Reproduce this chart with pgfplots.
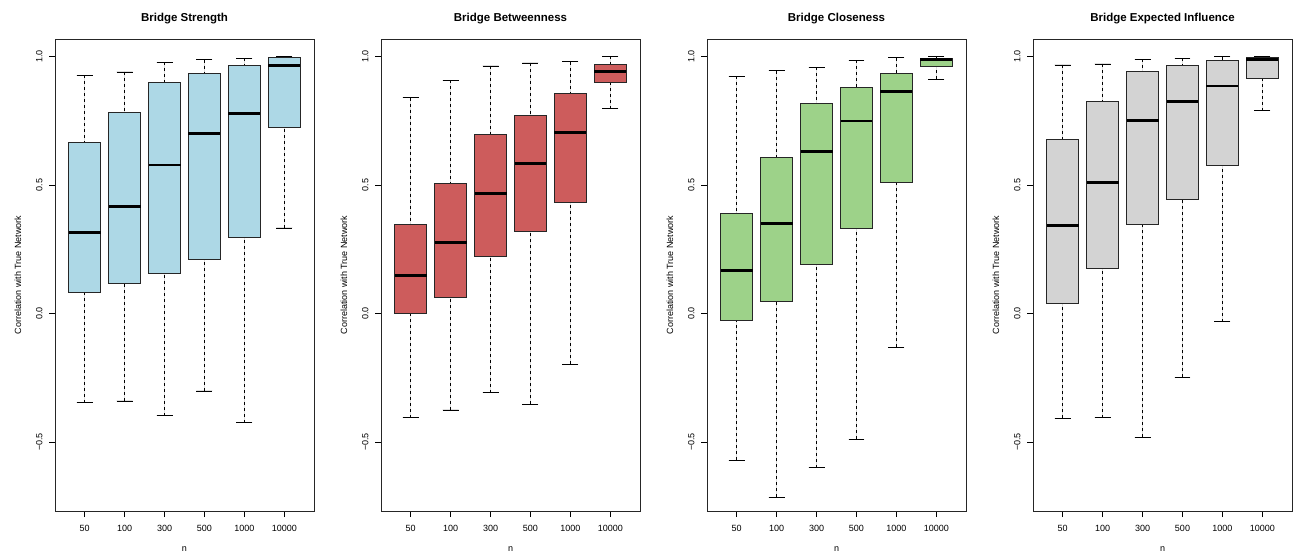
\documentclass[border=0pt]{standalone}
\usepackage{fontspec}
\setmainfont{Liberation Sans}
\usepackage{pgfplots}
\usepackage{pgfplotstable}
\pgfplotsset{compat=1.18}
\usepgfplotslibrary{statistics}

\definecolor{cblue}{RGB}{173,216,230}
\definecolor{cred}{RGB}{205,92,92}
\definecolor{cgreen}{RGB}{157,210,137}
\definecolor{cgray}{RGB}{211,211,211}

\pgfplotstableread{
n lw lq med uq uw
50 -0.347 0.082 0.315 0.664 0.927
100 -0.340 0.119 0.415 0.781 0.940
300 -0.397 0.158 0.578 0.901 0.977
500 -0.301 0.211 0.701 0.934 0.988
1000 -0.425 0.295 0.779 0.964 0.993
10000 0.333 0.726 0.964 0.996 1.000
}\tabStrength

\pgfplotstableread{
n lw lq med uq uw
50 -0.405 -0.001 0.147 0.347 0.840
100 -0.375 0.063 0.275 0.505 0.907
300 -0.308 0.222 0.466 0.696 0.963
500 -0.353 0.321 0.584 0.770 0.975
1000 -0.197 0.433 0.703 0.856 0.979
10000 0.797 0.901 0.942 0.970 1.000
}\tabBetween

\pgfplotstableread{
n lw lq med uq uw
50 -0.570 -0.027 0.166 0.388 0.923
100 -0.715 0.049 0.349 0.608 0.944
300 -0.600 0.193 0.629 0.819 0.959
500 -0.488 0.333 0.749 0.879 0.986
1000 -0.132 0.510 0.863 0.934 0.995
10000 0.912 0.962 0.988 0.992 1.000
}\tabClose

\pgfplotstableread{
n lw lq med uq uw
50 -0.408 0.041 0.344 0.677 0.967
100 -0.405 0.175 0.511 0.827 0.971
300 -0.482 0.348 0.751 0.942 0.989
500 -0.248 0.444 0.826 0.966 0.993
1000 -0.032 0.577 0.885 0.984 0.999
10000 0.789 0.915 0.988 0.998 1.000
}\tabEI

\pgfplotsset{
  rpanel/.style={
    anchor=south west, scale only axis, width=259pt, height=472pt,
    xmin=0.26, xmax=6.74, ymin=-0.768, ymax=1.068,
    xtick={1,2,3,4,5,6}, xticklabels={50,100,300,500,1000,10000},
    ytick={-0.5,0,0.5,1}, yticklabels={−0.5,0.0,0.5,1.0},
    tick pos=left, tick align=outside, major tick length=6pt,
    tick style={black, line width=0.8pt},
    axis line style={black!85, line width=0.8pt},
    ticklabel style={font=\fontsize{9}{10}\selectfont},
    yticklabel style={xshift=-3pt, rotate=90, anchor=south},
    xticklabel style={anchor=north, yshift=-5pt},
    title style={font=\fontsize{11.5}{13}\selectfont\bfseries, at={(0.5,1)}, anchor=center, yshift=14pt},
    ylabel={Correlation with True Network},
    xlabel={n},
    label style={font=\fontsize{9}{10}\selectfont},
    ylabel style={at={(axis description cs:-0.143,0.5)}, anchor=center},
    xlabel style={at={(axis description cs:0.5,-0.08)}, anchor=center},
    /pgf/number format/assume math mode=true,
    boxplot/draw direction=y,
    boxplot/box extend=0.8,
    boxplot/whisker extend=0.4,
    boxplot/draw/lower whisker/.code={%
      \draw[black, line width=0.7pt, dash pattern=on 3pt off 3pt]
        (boxplot cs:\pgfplotsboxplotvalue{lower whisker}) --
        (boxplot cs:\pgfplotsboxplotvalue{lower quartile});
      \draw[black, line width=0.8pt]
        (boxplot whisker cs:\pgfplotsboxplotvalue{lower whisker},0) --
        (boxplot whisker cs:\pgfplotsboxplotvalue{lower whisker},1);
    },
    boxplot/draw/upper whisker/.code={%
      \draw[black, line width=0.7pt, dash pattern=on 3pt off 3pt]
        (boxplot cs:\pgfplotsboxplotvalue{upper whisker}) --
        (boxplot cs:\pgfplotsboxplotvalue{upper quartile});
      \draw[black, line width=0.8pt]
        (boxplot whisker cs:\pgfplotsboxplotvalue{upper whisker},0) --
        (boxplot whisker cs:\pgfplotsboxplotvalue{upper whisker},1);
    },
    boxplot/draw/median/.code={%
      \draw[black, line width=2.8pt]
        (boxplot box cs:\pgfplotsboxplotvalue{median},0) --
        (boxplot box cs:\pgfplotsboxplotvalue{median},1);
    },
  }
}

% #1 table, #2 row, #3 colour
\newcommand{\drawbox}[3]{%
  \pgfplotstablegetelem{#2}{lw}\of{#1}\edef\vlw{\pgfplotsretval}%
  \pgfplotstablegetelem{#2}{lq}\of{#1}\edef\vlq{\pgfplotsretval}%
  \pgfplotstablegetelem{#2}{med}\of{#1}\edef\vmed{\pgfplotsretval}%
  \pgfplotstablegetelem{#2}{uq}\of{#1}\edef\vuq{\pgfplotsretval}%
  \pgfplotstablegetelem{#2}{uw}\of{#1}\edef\vuw{\pgfplotsretval}%
  \edef\tmpplot{\noexpand\addplot[fill=#3, draw=black!85, line width=0.8pt,
      boxplot prepared={draw position=\the\numexpr#2+1\relax,
        lower whisker=\vlw, lower quartile=\vlq, median=\vmed,
        upper quartile=\vuq, upper whisker=\vuw}] coordinates {};}%
  \tmpplot
}
\newcommand{\drawboxes}[2]{%
  \pgfplotsinvokeforeach{0,...,5}{\drawbox{#1}{##1}{#2}}%
}

\begin{document}
\begin{tikzpicture}
\useasboundingbox (0,0) rectangle (1295pt,552pt);
\begin{axis}[rpanel, at={(55pt,41pt)}, title={Bridge Strength}]
\drawboxes{\tabStrength}{cblue}
\end{axis}
\begin{axis}[rpanel, at={(381pt,41pt)}, title={Bridge Betweenness}]
\drawboxes{\tabBetween}{cred}
\end{axis}
\begin{axis}[rpanel, at={(707pt,41pt)}, title={Bridge Closeness}]
\drawboxes{\tabClose}{cgreen}
\end{axis}
\begin{axis}[rpanel, at={(1033pt,41pt)}, title={Bridge Expected Influence}]
\drawboxes{\tabEI}{cgray}
\end{axis}
\end{tikzpicture}
\end{document}
